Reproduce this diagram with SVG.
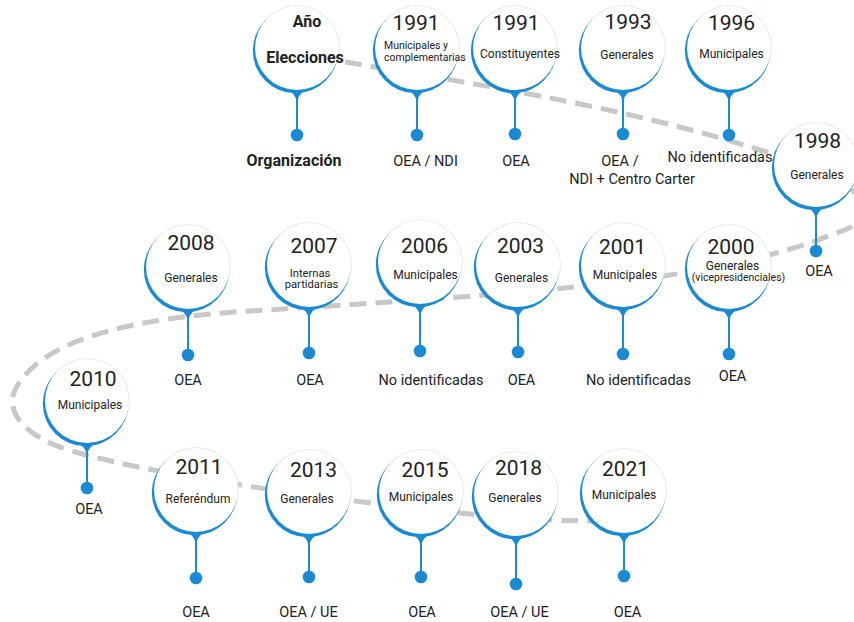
<svg xmlns="http://www.w3.org/2000/svg" xmlns:xlink="http://www.w3.org/1999/xlink" width="854" height="622" viewBox="0 0 854 622">
<style>
text{font-family:Roboto,"Liberation Sans",Arial,sans-serif;fill:#222;text-anchor:middle}
.yr{font-size:21px}
.sub{font-size:12px}
.sm{font-size:10.5px}
.lbl{font-size:14.5px}
.hd{font-size:16px;font-weight:bold}
.stem{stroke:#1b8ad2;stroke-width:2}
.dot{fill:#1b8ad2}
.path{fill:none;stroke:#c8c8c8;stroke-width:5;stroke-dasharray:17 9}
</style>
<defs>
<g id="pin">
<circle r="42.8" fill="#e4e4e4"/>
<circle cx="-1.5" cy="2.6" r="42.7" fill="#1b8ad2"/>
<path d="M-15,39 C-6,43 -2,46 0,54 C2,46 6,43 15,39 Z" fill="#1b8ad2"/>
<circle r="42" fill="#fff"/>
</g>
</defs>
<rect width="854" height="622" fill="#fff"/>
<g id="connectors">
<path class="path" d="M345,62 C450,80 620,105 760,150 C860,180 900,215 830,235 C800,249 720,270 620,282 C520,294 380,303 250,311 C130,318 40,340 15,390 C5,412 25,438 75,452 C160,476 330,500 470,514 C520,519 560,521 595,521"/>
</g>
<g id="header">
<line class="stem" x1="297" y1="96" x2="297" y2="135"/><circle class="dot" cx="297" cy="135" r="6.3"/>
<use xlink:href="#pin" x="297" y="48"/>
<text class="hd" x="307" y="27">Año</text>
<text class="hd" x="305" y="63">Elecciones</text>
<text class="hd" x="294" y="166">Organización</text>
</g>
<g id="n1991a">
<line class="stem" x1="417" y1="96" x2="417" y2="135"/><circle class="dot" cx="417" cy="135" r="6.3"/>
<use xlink:href="#pin" x="417" y="48"/>
<text class="yr" x="416" y="29.5">1991</text>
<text class="sm" x="384" y="48.5" style="text-anchor:start">Municipales y</text>
<text class="sm" x="384" y="60.5" style="text-anchor:start">complementarias</text>
<text class="lbl" x="425.5" y="166">OEA / NDI</text>
</g>
<g id="n1991b">
<line class="stem" x1="515" y1="96" x2="515" y2="134"/><circle class="dot" cx="515" cy="134" r="6.3"/>
<use xlink:href="#pin" x="515" y="48"/>
<text class="yr" x="516" y="29.5">1991</text>
<text class="sub" x="520" y="57.5">Constituyentes</text>
<text class="lbl" x="516" y="166">OEA</text>
</g>
<g id="n1993">
<line class="stem" x1="623" y1="96" x2="623" y2="134"/><circle class="dot" cx="623" cy="134" r="6.3"/>
<use xlink:href="#pin" x="623" y="48"/>
<text class="yr" x="628" y="28.5">1993</text>
<text class="sub" x="627" y="59.3">Generales</text>
<text class="lbl" x="620" y="166">OEA /</text>
<text class="lbl" x="632" y="184">NDI + Centro Carter</text>
</g>
<g id="n1996">
<line class="stem" x1="729" y1="96" x2="729" y2="135"/><circle class="dot" cx="729" cy="135" r="6.3"/>
<use xlink:href="#pin" x="729" y="48"/>
<text class="yr" x="731.5" y="29.5">1996</text>
<text class="sub" x="731.5" y="58.3">Municipales</text>
<text class="lbl" x="720" y="161.5">No identificadas</text>
</g>
<g id="n1998">
<line class="stem" x1="816" y1="213" x2="816" y2="251"/><circle class="dot" cx="816" cy="251" r="6.3"/>
<use xlink:href="#pin" x="816" y="165"/>
<text class="yr" x="817.5" y="148">1998</text>
<text class="sub" x="817" y="179">Generales</text>
<text class="lbl" x="819" y="276">OEA</text>
</g>
<g id="n2008">
<line class="stem" x1="188" y1="315" x2="188" y2="355"/><circle class="dot" cx="188" cy="355" r="6.3"/>
<use xlink:href="#pin" x="188" y="267"/>
<text class="yr" x="191" y="250">2008</text>
<text class="sub" x="191" y="281.5">Generales</text>
<text class="lbl" x="188" y="385">OEA</text>
</g>
<g id="n2007">
<line class="stem" x1="309" y1="313" x2="309" y2="353"/><circle class="dot" cx="309" cy="353" r="6.3"/>
<use xlink:href="#pin" x="309" y="265"/>
<text class="yr" x="314" y="253">2007</text>
<text class="sm" x="310" y="276.5" style="font-size:11.2px">Internas</text>
<text class="sm" x="311.5" y="288" style="font-size:11.2px">partidarias</text>
<text class="lbl" x="310" y="385">OEA</text>
</g>
<g id="n2006">
<line class="stem" x1="420" y1="310" x2="420" y2="351"/><circle class="dot" cx="420" cy="351" r="6.3"/>
<use xlink:href="#pin" x="420" y="262"/>
<text class="yr" x="424.5" y="253">2006</text>
<text class="sub" x="425.5" y="279">Municipales</text>
<text class="lbl" x="431" y="385">No identificadas</text>
</g>
<g id="n2003">
<line class="stem" x1="518" y1="313" x2="518" y2="352"/><circle class="dot" cx="518" cy="352" r="6.3"/>
<use xlink:href="#pin" x="518" y="265"/>
<text class="yr" x="520.5" y="253">2003</text>
<text class="sub" x="521.5" y="281.5">Generales</text>
<text class="lbl" x="521.5" y="385">OEA</text>
</g>
<g id="n2001">
<line class="stem" x1="623" y1="313" x2="623" y2="354"/><circle class="dot" cx="623" cy="354" r="6.3"/>
<use xlink:href="#pin" x="623" y="265"/>
<text class="yr" x="622.5" y="254">2001</text>
<text class="sub" x="625" y="279">Municipales</text>
<text class="lbl" x="638.5" y="384.5">No identificadas</text>
</g>
<g id="n2000">
<line class="stem" x1="729" y1="315" x2="729" y2="354"/><circle class="dot" cx="729" cy="354" r="6.3"/>
<use xlink:href="#pin" x="729" y="267"/>
<text class="yr" x="731" y="254">2000</text>
<text class="sub" x="732.5" y="269.5">Generales</text>
<text class="sm" x="738.5" y="281">(vicepresidenciales)</text>
<text class="lbl" x="732.5" y="381">OEA</text>
</g>
<g id="n2010">
<line class="stem" x1="87" y1="449" x2="87" y2="488"/><circle class="dot" cx="87" cy="488" r="6.3"/>
<use xlink:href="#pin" x="87" y="401"/>
<text class="yr" x="93" y="386">2010</text>
<text class="sub" x="90" y="409">Municipales</text>
<text class="lbl" x="89" y="514">OEA</text>
</g>
<g id="n2011">
<line class="stem" x1="196" y1="538" x2="196" y2="578"/><circle class="dot" cx="196" cy="578" r="6.3"/>
<use xlink:href="#pin" x="196" y="490"/>
<text class="yr" x="199" y="473.5">2011</text>
<text class="sub" x="198" y="503">Referéndum</text>
<text class="lbl" x="196" y="616.5">OEA</text>
</g>
<g id="n2013">
<line class="stem" x1="309" y1="540" x2="309" y2="577"/><circle class="dot" cx="309" cy="577" r="6.3"/>
<use xlink:href="#pin" x="309" y="492"/>
<text class="yr" x="313.5" y="476.5">2013</text>
<text class="sub" x="307" y="503">Generales</text>
<text class="lbl" x="308.5" y="616.5">OEA / UE</text>
</g>
<g id="n2015">
<line class="stem" x1="421" y1="540" x2="421" y2="577"/><circle class="dot" cx="421" cy="577" r="6.3"/>
<use xlink:href="#pin" x="421" y="492"/>
<text class="yr" x="425" y="476.5">2015</text>
<text class="sub" x="421" y="501">Municipales</text>
<text class="lbl" x="422" y="616.5">OEA</text>
</g>
<g id="n2018">
<line class="stem" x1="516" y1="542" x2="516" y2="584"/><circle class="dot" cx="516" cy="584" r="6.3"/>
<use xlink:href="#pin" x="516" y="494"/>
<text class="yr" x="518.5" y="475">2018</text>
<text class="sub" x="515" y="501.5">Generales</text>
<text class="lbl" x="519.5" y="616.5">OEA / UE</text>
</g>
<g id="n2021">
<line class="stem" x1="624" y1="539" x2="624" y2="576"/><circle class="dot" cx="624" cy="576" r="6.3"/>
<use xlink:href="#pin" x="624" y="491"/>
<text class="yr" x="625.5" y="476">2021</text>
<text class="sub" x="624" y="499">Municipales</text>
<text class="lbl" x="627.5" y="616.5">OEA</text>
</g>
</svg>
